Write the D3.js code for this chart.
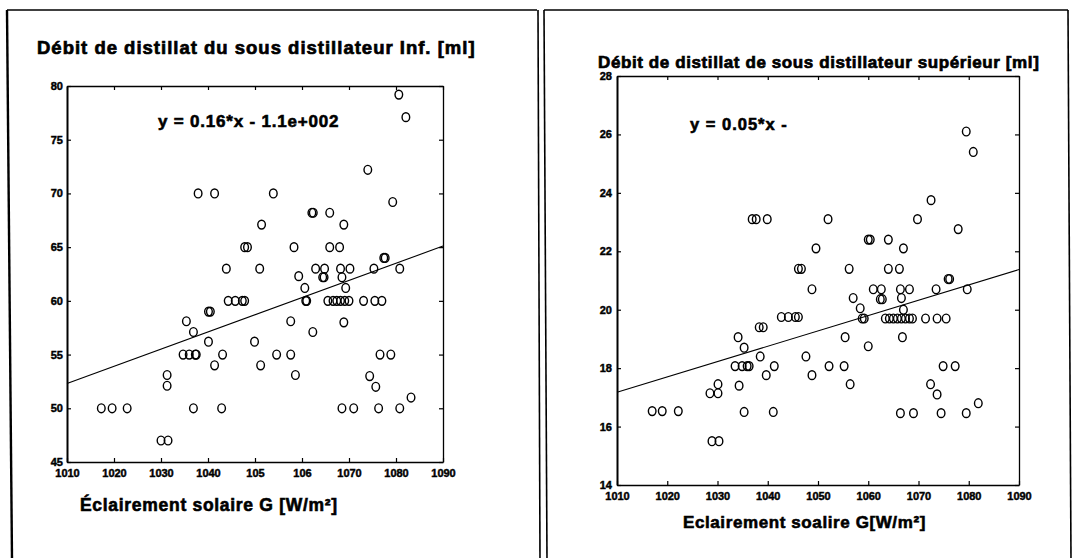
<!DOCTYPE html>
<html>
<head>
<meta charset="utf-8">
<script src="https://cdn.jsdelivr.net/npm/d3@7"></script>
<style>
  body { margin: 0; background: #fff; }
  svg { display: block; }
  text { font-family: "Liberation Sans", Arial, Helvetica, sans-serif; font-weight: bold; fill: #000;
         stroke: #000; paint-order: stroke; }
</style>
</head>
<body>
<svg id="chart" width="1077" height="558"></svg>
<script>
// Solar irradiance ticks shared by both panels
const gTicks = [1010, 1020, 1030, 1040, 1050, 1060, 1070, 1080, 1090];
const gTickLabelsInf = ["1010", "1020", "1030", "1040", "105", "106", "1070", "1080", "1090"];
const gTickLabelsSup = ["1010", "1020", "1030", "1040", "1050", "1060", "1070", "1080", "1090"];

// Lower still: distillate flow [ml]
const qTicksInf = [45, 50, 55, 60, 65, 70, 75, 80];
const gInf = [
  1017.3, 1019.6, 1022.8, 1030.0, 1031.5, 1031.3, 1031.3, 1035.4, 1036.9,
  1034.7, 1036.0, 1037.3, 1037.5, 1036.9, 1037.9, 1041.4, 1053.9, 1040.1,
  1040.5, 1040.1, 1041.4, 1043.1, 1042.9, 1043.9, 1044.3, 1045.8, 1047.3,
  1047.8, 1047.8, 1048.4, 1049.9, 1051.2, 1051.0, 1051.4, 1054.6, 1057.6,
  1057.6, 1058.6, 1058.3, 1059.3, 1060.6, 1060.8, 1061.0, 1062.1, 1062.4,
  1065.9, 1068.9, 1065.9, 1068.0, 1062.9, 1064.8, 1068.2, 1070.2, 1075.3,
  1064.4, 1064.7, 1068.5, 1069.3, 1065.5, 1066.6, 1067.4, 1068.2, 1069.1,
  1070.0, 1073.1, 1075.5, 1077.0, 1068.9, 1062.3, 1076.6, 1078.9, 1074.4,
  1075.7, 1068.5, 1071.0, 1076.3, 1080.8, 1083.2, 1077.4, 1077.7, 1080.8,
  1074.0, 1079.3, 1080.6, 1082.1
];
const qInf = [
  50, 50, 50, 47, 47, 53.1, 52.1, 58.1, 57.1,
  55, 55, 55, 55, 50, 70, 70, 70, 59,
  59, 56.2, 54, 55, 50, 63, 60, 60, 60,
  60, 65, 65, 56.2, 54, 63, 67.1, 55, 55,
  58.1, 53.1, 65, 62.3, 61.2, 60, 60, 68.2, 68.2,
  68.2, 67.1, 65, 65, 63, 63, 63, 63, 63,
  62.2, 62.2, 62.2, 61.2, 60, 60, 60, 60, 60,
  60, 60, 60, 60, 58, 57.1, 55, 55, 53,
  52, 50, 50, 50, 50, 51, 64, 64, 63,
  72.2, 69.2, 79.2, 77.1
];

// Upper still: distillate flow [ml]
const qTicksSup = [14, 16, 18, 20, 22, 24, 26, 28];
const gSup = [
  1036.9, 1037.7, 1039.9, 1052.0, 1049.6, 1046.1, 1046.7, 1079.5, 1080.9,
  1072.5, 1069.8, 1077.9, 1060.0, 1060.4, 1064.0, 1067.0, 1056.2, 1064.0,
  1066.2, 1075.9, 1076.2, 1048.8, 1042.7, 1044.1, 1045.5, 1046.1, 1038.3,
  1039.1, 1034.1, 1035.3, 1038.5, 1047.6, 1033.5, 1034.9, 1035.9, 1036.3,
  1041.3, 1052.2, 1030.1, 1034.3, 1039.7, 1048.8, 1028.5, 1030.1, 1017.0,
  1019.0, 1022.2, 1035.3, 1041.1, 1028.9, 1030.3, 1061.0, 1062.6, 1066.4,
  1068.2, 1073.5, 1079.7, 1062.4, 1062.8, 1057.0, 1066.6, 1058.4, 1067.0,
  1058.8, 1059.2, 1063.4, 1064.2, 1065.0, 1065.8, 1066.6, 1067.4, 1068.2,
  1068.8, 1071.4, 1073.7, 1075.5, 1055.4, 1066.8, 1060.0, 1055.2, 1074.9,
  1077.3, 1056.4, 1072.4, 1073.7, 1066.4, 1069.0, 1074.5, 1079.5, 1081.9
];
const qSup = [
  23.1, 23.1, 23.1, 23.1, 22.1, 21.4, 21.4, 26.1, 25.4,
  23.75, 23.1, 22.76, 22.4, 22.4, 22.4, 22.1, 21.4, 21.4,
  21.4, 21.05, 21.05, 20.7, 19.75, 19.75, 19.75, 19.75, 19.4,
  19.4, 19.06, 18.7, 18.4, 18.4, 18.07, 18.07, 18.07, 18.07,
  18.07, 18.07, 17.45, 17.4, 17.76, 17.76, 17.14, 17.14, 16.53,
  16.53, 16.53, 16.5, 16.5, 15.5, 15.5, 20.7, 20.7, 20.7,
  20.7, 20.7, 20.7, 20.36, 20.36, 20.4, 20.4, 20.05, 20.0,
  19.7, 19.7, 19.7, 19.7, 19.7, 19.7, 19.7, 19.7, 19.7,
  19.7, 19.7, 19.7, 19.7, 19.06, 19.06, 18.75, 18.07, 18.07,
  18.07, 17.45, 17.45, 17.1, 16.46, 16.46, 16.46, 16.46, 16.8
];

// Least-squares lines (coefficients as printed, rounded)
const fitInf = { slope: 0.16, intercept: -109.3 };
const fitSup = { slope: 0.0525, intercept: -35.85 };

const svg = d3.select("#chart");

// Panel frames
const frame = svg.append("g").attr("fill", "none").attr("stroke", "#000");
frame.append("path").attr("d", "M7,10 L537,10").attr("stroke-width", 1.6);
frame.append("path").attr("d", "M7,10 L12,560").attr("stroke-width", 2.4);
frame.append("path").attr("d", "M538,10 L540,560").attr("stroke-width", 1.6);
frame.append("path").attr("d", "M544,10 L547,560").attr("stroke-width", 1.6);
frame.append("path").attr("d", "M544,10 L1068,10").attr("stroke-width", 1.6);
frame.append("path").attr("d", "M1068,10 L1071,560").attr("stroke-width", 1.6);

function label(g, x, y, size, spacing, weight, str) {
  return g.append("text").attr("x", x).attr("y", y)
    .style("font-size", size + "px")
    .style("letter-spacing", spacing + "px")
    .style("stroke-width", weight + "px")
    .text(str);
}

function drawPanel(p) {
  const x = d3.scaleLinear().domain([1010, 1090]).range([p.left, p.right]);
  const y = d3.scaleLinear().domain(p.yDomain).range([p.bottom, p.top]);
  const g = svg.append("g");

  label(g, p.titleX, p.titleY, p.titleSize, p.titleSpacing, 0.7, p.title);

  // Mirrored inward ticks on all four sides
  const bottomAxis = d3.axisBottom(x).tickValues(gTicks).tickSize(-4).tickSizeOuter(0)
    .tickPadding(p.xPad).tickFormat((d, i) => p.xLabels[i]);
  const topAxis = d3.axisTop(x).tickValues(gTicks).tickSize(-4).tickSizeOuter(0).tickFormat("");
  const leftAxis = d3.axisLeft(y).tickValues(p.yTicks).tickSize(-4).tickSizeOuter(0)
    .tickPadding(p.yPad).tickFormat(d3.format("d"));
  const rightAxis = d3.axisRight(y).tickValues(p.yTicks).tickSize(-4).tickSizeOuter(0).tickFormat("");

  const gb = g.append("g").attr("transform", `translate(0,${p.bottom})`).call(bottomAxis);
  const gt = g.append("g").attr("transform", `translate(0,${p.top})`).call(topAxis);
  const gl = g.append("g").attr("transform", `translate(${p.left},0)`).call(leftAxis);
  const gr = g.append("g").attr("transform", `translate(${p.right},0)`).call(rightAxis);

  [gb, gt, gl, gr].forEach(a => {
    a.selectAll("path.domain").attr("stroke", "#000").attr("stroke-width", 1.3);
    a.selectAll(".tick line").attr("stroke", "#000").attr("stroke-width", 1.2);
    a.selectAll("text").style("font-size", p.tickSize + "px")
      .style("font-family", '"Liberation Sans", Arial, sans-serif')
      .style("font-weight", "bold").attr("fill", "#000")
      .style("stroke", "#000").style("stroke-width", "0.45px");
  });
  gl.select("path.domain").attr("stroke-width", 2);

  // Regression line
  g.append("line")
    .attr("x1", x(1010)).attr("y1", y(p.fit.slope * 1010 + p.fit.intercept))
    .attr("x2", x(1090)).attr("y2", y(p.fit.slope * 1090 + p.fit.intercept))
    .attr("stroke", "#000").attr("stroke-width", 1.1);

  // Measured points
  g.append("g").selectAll("ellipse")
    .data(p.xs.map((v, i) => [v, p.ys[i]]))
    .join("ellipse")
    .attr("cx", d => x(d[0])).attr("cy", d => y(d[1]))
    .attr("rx", 3.8).attr("ry", 4.4)
    .attr("fill", "none").attr("stroke", "#000").attr("stroke-width", 1.4);

  label(g, p.eqX, p.eqY, p.eqSize, p.eqSpacing, 0.6, p.equation);
  label(g, p.xTitleX, p.xTitleY, p.xTitleSize, p.xTitleSpacing, 0.6, p.xTitle);
}

drawPanel({
  left: 67, right: 443, top: 86, bottom: 462,
  yDomain: [45, 80], yTicks: qTicksInf, xLabels: gTickLabelsInf,
  xs: gInf, ys: qInf, fit: fitInf,
  title: "Débit de distillat du sous distillateur Inf. [ml]",
  titleX: 37, titleY: 54, titleSize: 18.5, titleSpacing: 1,
  equation: "y = 0.16*x - 1.1e+002", eqX: 158, eqY: 127, eqSize: 17, eqSpacing: 0.8,
  xTitle: "Éclairement solaire G [W/m²]", xTitleX: 80, xTitleY: 511, xTitleSize: 17.5, xTitleSpacing: 0.7,
  xPad: 7, yPad: 4, tickSize: 11
});

drawPanel({
  left: 617, right: 1019, top: 76, bottom: 485,
  yDomain: [14, 28], yTicks: qTicksSup, xLabels: gTickLabelsSup,
  xs: gSup, ys: qSup, fit: fitSup,
  title: "Débit de distillat de sous distillateur supérieur [ml]",
  titleX: 598, titleY: 68, titleSize: 17, titleSpacing: 0.6,
  equation: "y = 0.05*x -", eqX: 690, eqY: 130, eqSize: 16.5, eqSpacing: 1,
  xTitle: "Eclairement soalire G[W/m²]", xTitleX: 683, xTitleY: 528, xTitleSize: 17, xTitleSpacing: 0.6,
  xPad: 7, yPad: 5, tickSize: 11
});
</script>
</body>
</html>
